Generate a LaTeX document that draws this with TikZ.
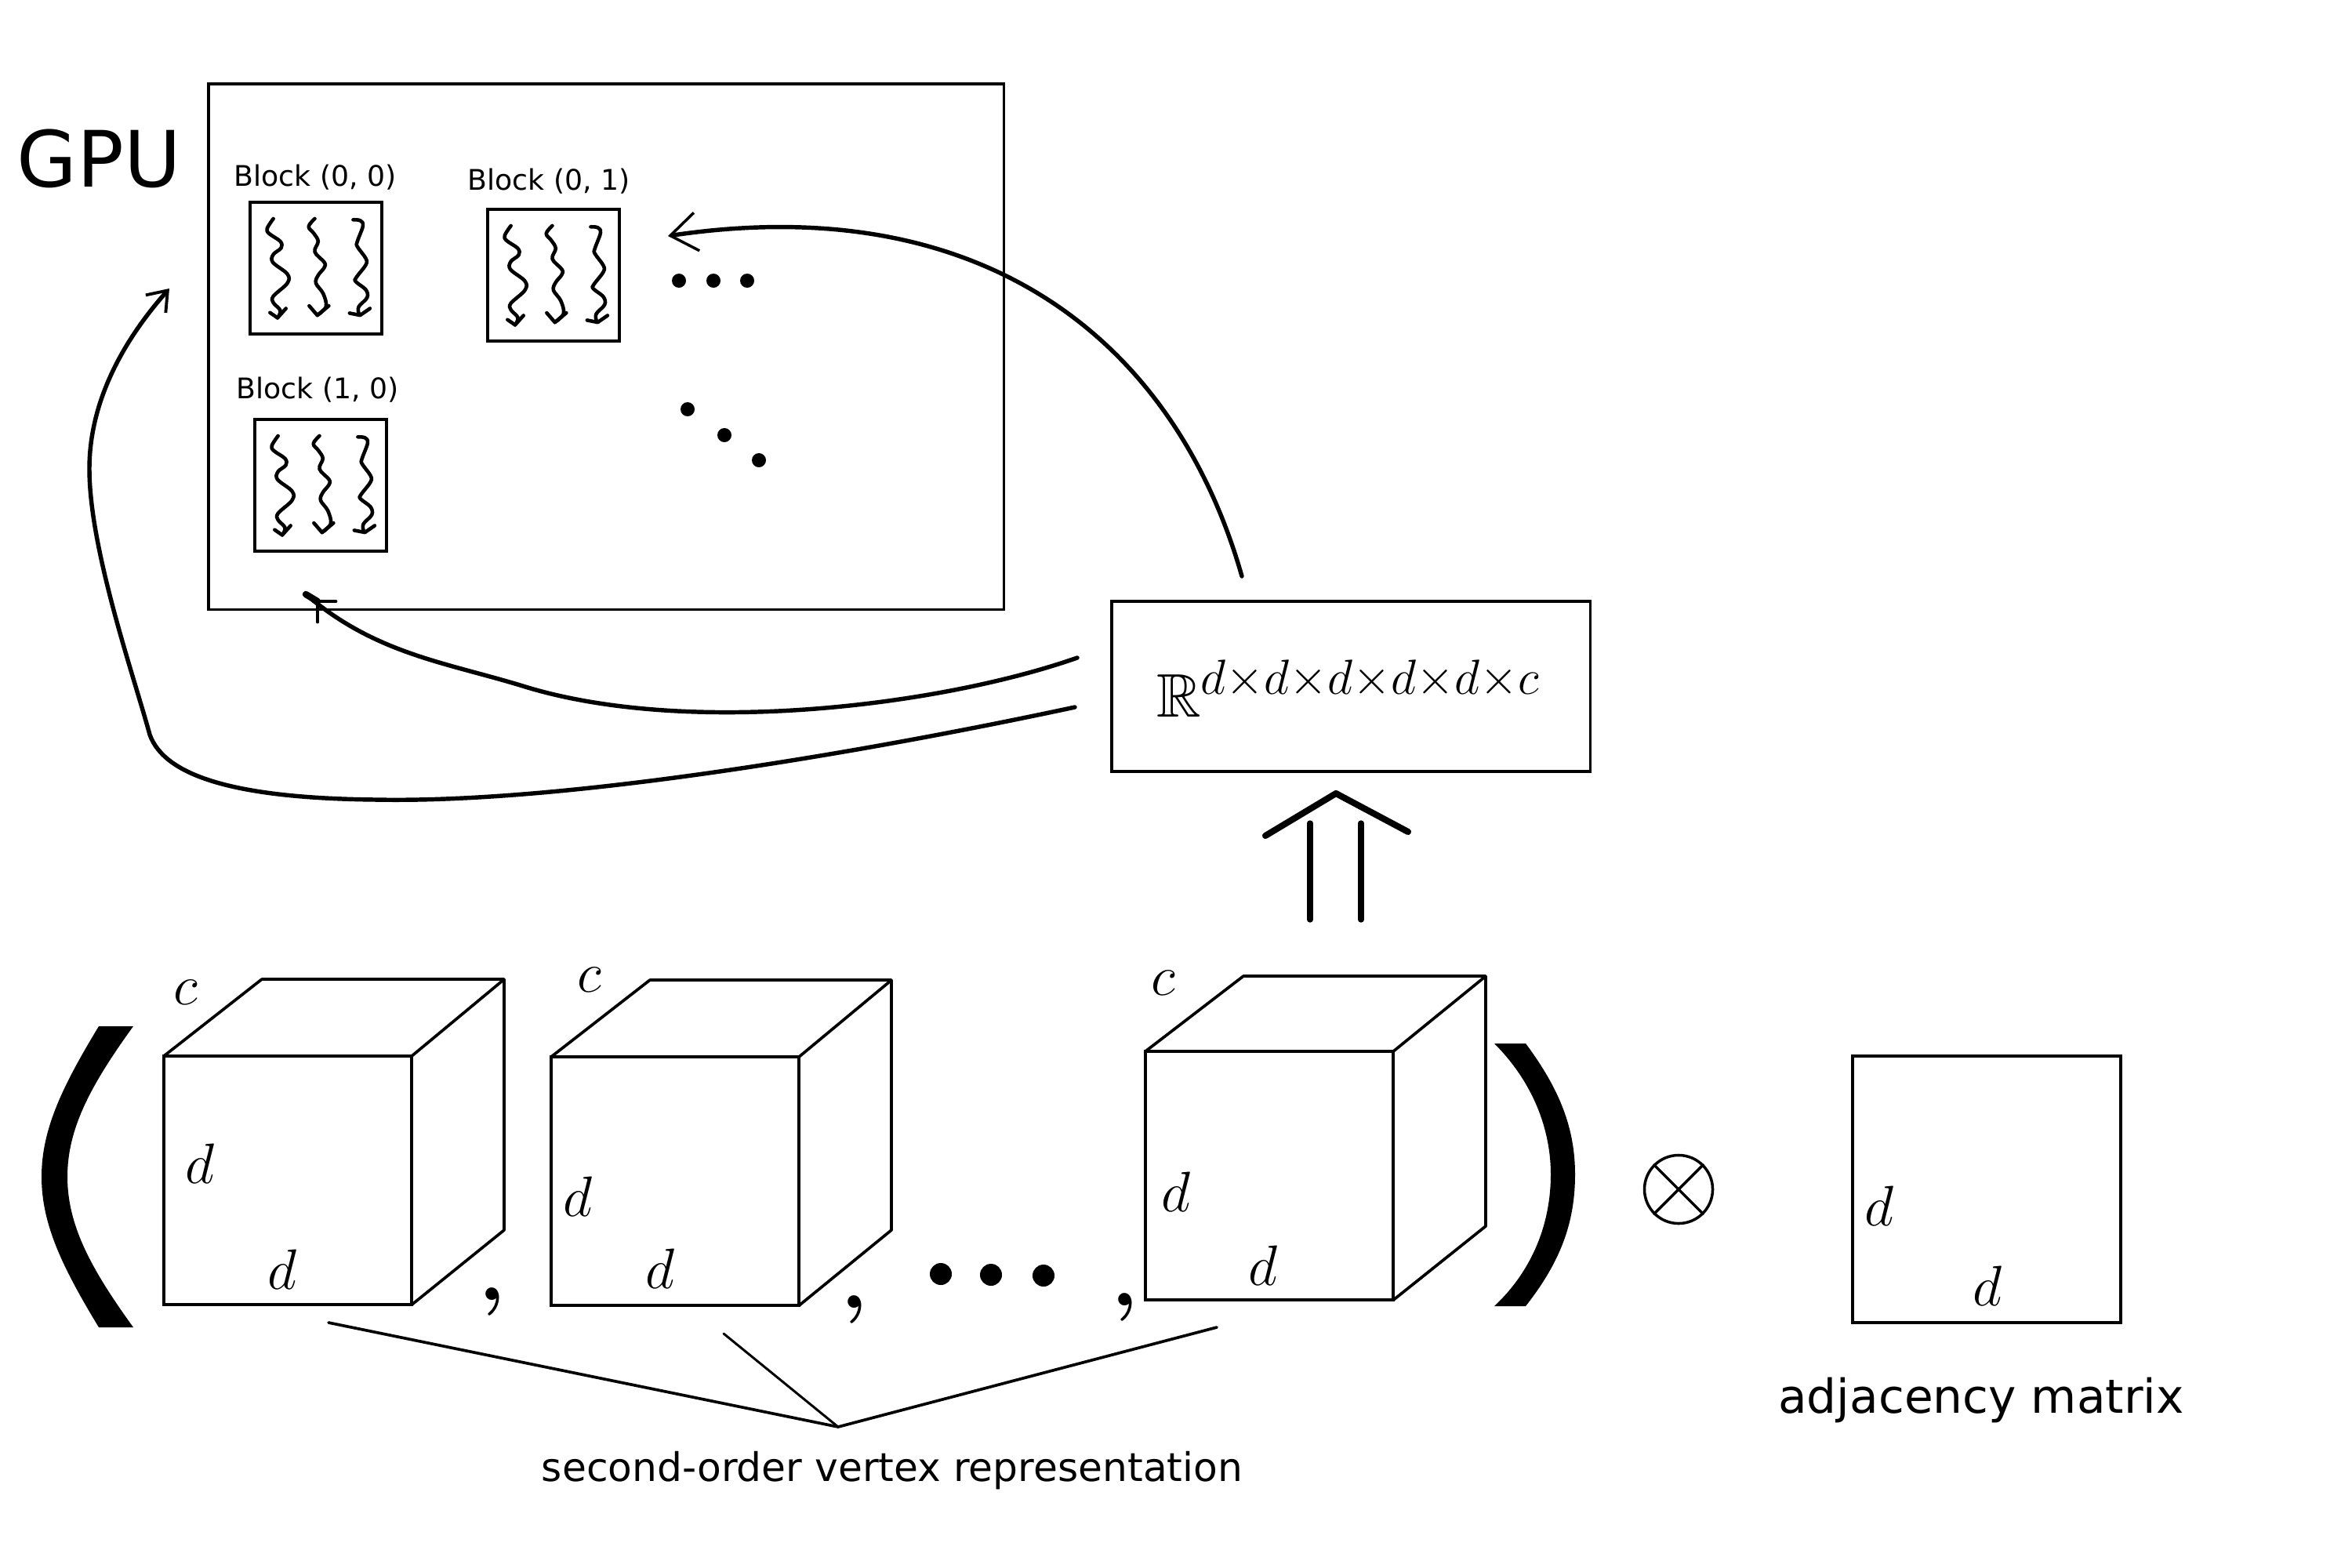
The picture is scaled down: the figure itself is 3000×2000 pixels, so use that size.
\RequirePackage{fix-cm}
\documentclass[tikz,border=0pt]{standalone}
\usepackage{amsfonts,amsmath}
\usepackage{fontspec}
\setmainfont{DejaVu Sans}
\usetikzlibrary{arrows.meta}
\DeclareMathSizes{22.3}{22.3}{17.9}{14}
\tikzset{
  thinbox/.style={draw,line width=1.05pt,rectangle,inner sep=0pt,outer sep=0pt,anchor=north west},
  blockbox/.style={thinbox,line width=1.15pt,minimum width=1.68cm,minimum height=1.68cm},
  face/.style={thinbox,minimum width=3.16cm,minimum height=3.17cm},
  edge3/.style={line width=1.05pt,line join=round},
  gpulabel/.style={inner sep=0pt,font=\fontsize{28.2}{32}\selectfont},
  blocklabel/.style={inner sep=0pt,font=\fontsize{10.3}{12}\selectfont},
  caption/.style={inner sep=0pt,font=\fontsize{14.3}{16}\selectfont},
  mathlabel/.style={inner sep=0pt,font=\fontsize{20.7}{24}\selectfont},
  rlabel/.style={inner sep=0pt,font=\fontsize{22.3}{26}\selectfont},
  bigcomma/.style={inner sep=0pt,font=\fontsize{29}{33}\selectfont\boldmath},
  curved/.style={line width=1.55pt,line cap=round},
  barb/.style={line width=1.4pt,line cap=round},
  dotdot/.style={circle,fill=black,inner sep=0pt,minimum size=0.18cm},
  bigdot/.style={circle,fill=black,inner sep=0pt,minimum size=0.28cm},
  wiggly/.style={line width=1.3pt,line join=round,line cap=round},
  brace/.style={line width=1.05pt,line cap=round},
  wiggles/.pic={
    \begin{scope}[x=0.00357cm,y=-0.00333cm]
      \draw[wiggly] plot[smooth,tension=.6] coordinates {(83,63)(61,100)(68,120)(108,150)(111,175)(83,200)(81,230)(133,275)(133,310)(83,360)(83,385)(108,415)(98,443)};
      \draw[wiggly] (71,423)--(98,443)--(128,407);
      \draw[wiggly] plot[smooth,tension=.6] coordinates {(231,63)(209,93)(228,120)(243,150)(231,190)(265,230)(265,250)(243,280)(235,310)(261,350)(271,400)(240,433)};
      \draw[wiggly] (211,397)--(240,433)--(281,397);
      \draw[wiggly] plot[smooth,tension=.6] coordinates {(368,67)(393,70)(403,90)(383,150)(383,170)(413,215)(413,240)(378,290)(378,305)(413,335)(418,365)(388,400)(388,425)};
      \draw[wiggly] (355,425)--(393,433)--(428,407);
    \end{scope}
  }
}
\begin{document}
\begin{tikzpicture}[x=0.01cm,y=-0.01cm]
\path[use as bounding box,fill=white] (0,0) rectangle (3000,2000);

% GPU box
\node[thinbox,minimum width=10.14cm,minimum height=6.70cm] (gpu) at (266,107) {};
\node[gpulabel] (gpulab) at (126,202) {GPU};

% Blocks
\node[blockbox] (b00) at (319,258) {};
\node[blockbox] (b01) at (622,267) {};
\node[blockbox] (b10) at (325,535) {};
\pic at (b00.north west) {wiggles};
\pic at (b01.north west) {wiggles};
\pic at (b10.north west) {wiggles};
\node[blocklabel] (l00) at (402,226) {Block (0, 0)};
\node[blocklabel] (l01) at (700,231) {Block (0, 1)};
\node[blocklabel] (l10) at (405,497) {Block (1, 0)};

% Dots in GPU
\node[dotdot] (h1) at (866,358) {};
\node[dotdot] (h2) at (910,358) {};
\node[dotdot] (h3) at (953,358) {};
\node[dotdot] (d1) at (877,522) {};
\node[dotdot] (d2) at (924,555) {};
\node[dotdot] (d3) at (968,587) {};

% Tensor box
\node[thinbox,minimum width=6.10cm,minimum height=2.17cm] (rbox) at (1418,767) {};
\node[rlabel,anchor=base] (rtext) at (1720,914) {$\mathbb{R}^{d\times d\times d\times d\times d\times c}$};

% Curved arrows
\coordinate (a1s) at (1584,735);
\coordinate (a1e) at (852,301);
\coordinate (a2s) at (1374,839);
\coordinate (a2m) at (670,876);
\coordinate (a2e) at (390,758);
\coordinate (a2k) at (405,767);
\coordinate (a2h) at (428,767);
\coordinate (a2v) at (405,793);
\coordinate (a3s) at (1371,902);
\coordinate (a3a) at (478,1020);
\coordinate (a3b) at (191,937);
\coordinate (a3c) at (114,598);
\coordinate (a3e) at (216,368);
\draw[curved,-{Straight Barb[length=0.34cm,width=0.49cm,line width=1pt]}] (a1s) .. controls (1500,440) and (1260,240) .. (a1e);
\draw[curved] (a2s) .. controls (1200,900) and (880,940) .. (a2m) .. controls (570,845) and (480,835) .. (a2e);
\draw[barb] (a2h) -- (a2k) -- (a2v);
\draw[curved,line width=2.4pt] (a2e) -- (a2k);
\draw[curved,-{Straight Barb[length=0.23cm,width=0.34cm,line width=1.1pt]}] (a3s) .. controls (1100,960) and (720,1025) .. (a3a) .. controls (300,1018) and (210,990) .. (a3b) .. controls (170,860) and (114,700) .. (a3c) .. controls (114,500) and (170,420) .. (a3e);

% Double arrow
\coordinate (ha) at (1614,1066);
\coordinate (hb) at (1704,1012);
\coordinate (hc) at (1796,1061);
\coordinate (s1a) at (1671,1050);
\coordinate (s1b) at (1671,1173);
\coordinate (s2a) at (1736,1050);
\coordinate (s2b) at (1736,1173);
\draw[line width=2.3pt,line cap=round,line join=round] (ha)--(hb)--(hc);
\draw[line width=2.1pt,line cap=round] (s1a)--(s1b);
\draw[line width=2.1pt,line cap=round] (s2a)--(s2b);

% Parentheses
\fill (126,1309) -- (170,1309) .. controls (115,1385) and (86,1440) .. (86,1501) .. controls (86,1562) and (115,1617) .. (170,1693) -- (126,1693) .. controls (80,1617) and (53,1562) .. (53,1501) .. controls (53,1440) and (80,1385) .. (126,1309) -- cycle;
\fill (1906,1331) -- (1946,1331) .. controls (1990,1390) and (2009,1440) .. (2009,1498) .. controls (2009,1560) and (1990,1610) .. (1946,1666) -- (1906,1666) .. controls (1955,1620) and (1978,1560) .. (1978,1498) .. controls (1978,1440) and (1955,1380) .. (1906,1331) -- cycle;

% Cubes
\node[face] (c1) at (209,1347) {};
\draw[edge3] (c1.north west) -- ++(125,-98) -- ++(309,0) -- ++(0,320) -- (c1.south east);
\draw[edge3] (c1.north east) -- ++(118,-98);
\node[face] (c2) at (703,1348) {};
\draw[edge3] (c2.north west) -- ++(126,-98) -- ++(308,0) -- ++(0,319) -- (c2.south east);
\draw[edge3] (c2.north east) -- ++(118,-98);
\node[face] (c3) at (1461,1341) {};
\draw[edge3] (c3.north west) -- ++(125,-96) -- ++(309,0) -- ++(0,319) -- (c3.south east);
\draw[edge3] (c3.north east) -- ++(118,-96);

% Cube labels
\node[mathlabel] (lc1) at (237,1266) {$c$};
\node[mathlabel] (ld1a) at (255,1484) {$d$};
\node[mathlabel] (ld1b) at (360,1619) {$d$};
\node[mathlabel] (lc2) at (752,1250) {$c$};
\node[mathlabel] (ld2a) at (737,1526) {$d$};
\node[mathlabel] (ld2b) at (842,1618) {$d$};
\node[mathlabel] (lc3) at (1484,1254) {$c$};
\node[mathlabel] (ld3a) at (1500,1520) {$d$};
\node[mathlabel] (ld3b) at (1611,1614) {$d$};

% Commas and dots
\node[bigcomma] (cm1) at (628,1660) {$,$};
\node[bigcomma] (cm2) at (1090,1670) {$,$};
\node[bigcomma] (cm3) at (1435,1667) {$,$};
\node[bigdot] (bd1) at (1200,1625) {};
\node[bigdot] (bd2) at (1264,1626) {};
\node[bigdot] (bd3) at (1331,1627) {};

% Otimes
\node[circle,draw,line width=1pt,minimum size=0.87cm,inner sep=0pt] (ot) at (2141,1517) {};
\draw[line width=1pt] (ot.45) -- (ot.225);
\draw[line width=1pt] (ot.135) -- (ot.315);

% Adjacency
\node[thinbox,minimum width=3.42cm,minimum height=3.40cm] (adj) at (2363,1347) {};
\node[mathlabel] (lad1) at (2397,1538) {$d$};
\node[mathlabel] (lad2) at (2535,1640) {$d$};
\node[caption,font=\fontsize{17}{20}\selectfont] (adjlab) at (2527,1786) {adjacency matrix};

% Brace lines
\node[caption] (sov) at (1138,1876) {second-order vertex representation};
\coordinate (apex) at (1069,1820);
\coordinate (e1) at (419,1687);
\coordinate (e2) at (923,1701);
\coordinate (e3) at (1552,1693);
\draw[brace] (e1) -- (apex) -- (e3);
\draw[brace,line width=0.85pt] (e2) -- (apex);
\end{tikzpicture}
\end{document}
